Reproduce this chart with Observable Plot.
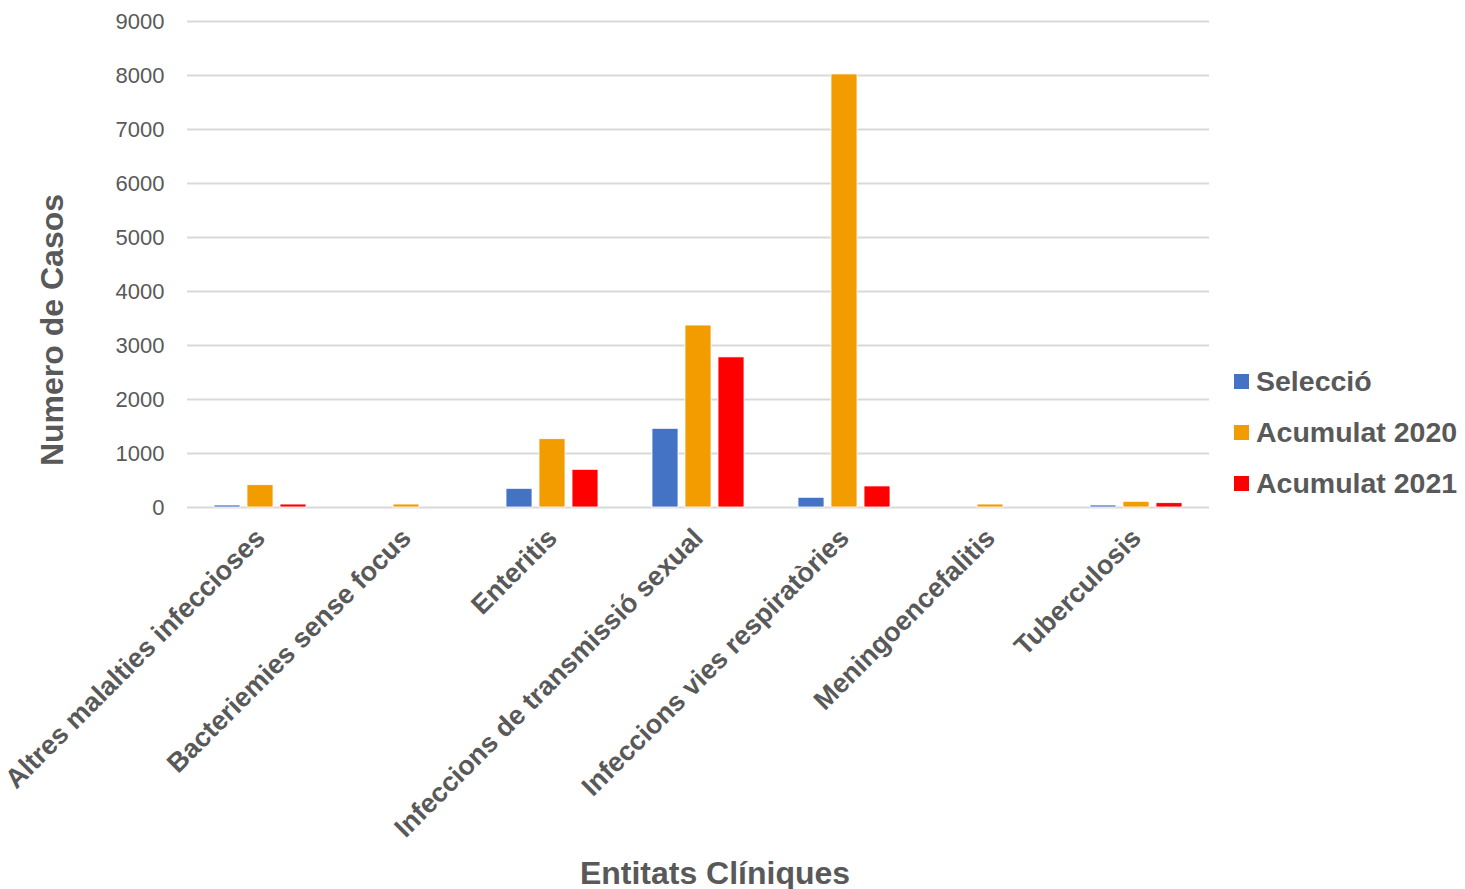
<!DOCTYPE html>
<html><head><meta charset="utf-8">
<script src="https://cdn.jsdelivr.net/npm/d3@7"></script>
<script src="https://cdn.jsdelivr.net/npm/@observablehq/plot@0.6"></script>
<style>
body{margin:0;background:#fff;font-family:"Liberation Sans",Arial,sans-serif;}
#wrap{position:relative;width:1465px;height:889px;overflow:hidden;}
.ttl{position:absolute;font-weight:bold;color:#595959;white-space:nowrap;}
#ytitle{font-size:32px;left:52px;top:330px;transform:translate(-50%,-50%) rotate(-90deg);}
#xtitle{font-size:32px;left:715px;top:873px;transform:translate(-50%,-50%);}
#legend{position:absolute;left:1234px;top:356px;}
.lg{display:flex;align-items:center;height:51px;font-size:28.5px;font-weight:bold;color:#595959;white-space:nowrap;}
.sw{width:15px;height:15px;margin-right:7px;}
</style></head><body><div id="wrap"></div>
<script>
const categories = ["Altres malalties infeccioses","Bacteriemies sense focus","Enteritis","Infeccions de transmissió sexual","Infeccions vies respiratòries","Meningoencefalitis","Tuberculosis"];
const series = ["Selecció","Acumulat 2020","Acumulat 2021"];
const seleccio = [37,0,346,1457,180,0,37];
const acumulat2020 = [413,55,1265,3370,8020,55,105];
const acumulat2021 = [55,0,698,2780,390,0,80];
const colors = ["#4472C4","#F29C00","#FF0000"];
const yTicks = [0,1000,2000,3000,4000,5000,6000,7000,8000,9000];

const values = [seleccio, acumulat2020, acumulat2021];
const data = categories.flatMap((c,i)=>series.map((s,j)=>({cat:c, series:s, value:values[j][i]})));

const chart = Plot.plot({
  width:1465, height:889,
  marginLeft:185, marginRight:255, marginTop:21, marginBottom:382,
  style:{fontFamily:"'Liberation Sans', Arial, sans-serif", color:"#595959", background:"white"},
  fx:{domain:categories, padding:0, label:null, axis:null},
  x:{domain:series, paddingInner:0.2, paddingOuter:0.785, axis:null},
  y:{domain:[0,9000], axis:null},
  color:{domain:series, range:colors},
  marks:[
    Plot.gridY(yTicks,{stroke:"#d9d9d9", strokeOpacity:1, strokeWidth:2}),
    Plot.axisY(yTicks,{tickSize:0, tickPadding:23, fontSize:22, label:null, fill:"#595959", tickFormat:d3.format("d")}),
    Plot.barY(data,{fx:"cat", x:"series", y:"value", fill:"series", stroke:"white", strokeWidth:0.8}),
    Plot.axisFx({anchor:"bottom", tickRotate:-45, tickSize:0, tickPadding:26, fontSize:27, fontWeight:"bold", label:null, fill:"#595959"})
  ]
});
const wrap = document.getElementById("wrap");
wrap.appendChild(chart);
const yt = document.createElement("div"); yt.className="ttl"; yt.id="ytitle"; yt.textContent="Numero de Casos"; wrap.appendChild(yt);
const xt = document.createElement("div"); xt.className="ttl"; xt.id="xtitle"; xt.textContent="Entitats Clíniques"; wrap.appendChild(xt);
const lg = document.createElement("div"); lg.id="legend";
series.forEach((s,i)=>{
  const row=document.createElement("div"); row.className="lg";
  const sw=document.createElement("span"); sw.className="sw"; sw.style.background=colors[i];
  row.appendChild(sw); row.appendChild(document.createTextNode(s)); lg.appendChild(row);
});
wrap.appendChild(lg);
</script></body></html>
